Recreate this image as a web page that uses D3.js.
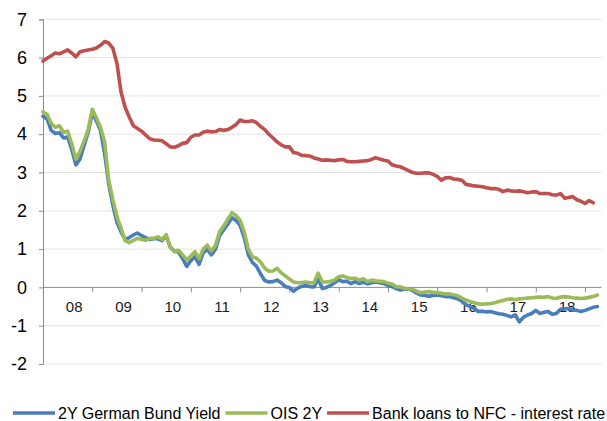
<!DOCTYPE html>
<html>
<head>
<meta charset="utf-8">
<script src="https://cdn.jsdelivr.net/npm/d3@7"></script>
<style>
body{margin:0;background:#fff;}
svg{display:block;font-family:"Liberation Sans",Arial,sans-serif;}
</style>
</head>
<body>
<div id="chart"></div>
<script>
// monthly, Jul 2007 onwards
const bund = [4.47,4.4,4.1,4.02,4.04,3.9,3.93,3.6,3.2,3.35,3.7,4.05,4.55,4.35,4.1,3.5,2.7,2.15,1.7,1.45,
1.25,1.3,1.37,1.42,1.35,1.3,1.25,1.27,1.27,1.22,1.35,1.05,0.95,0.92,0.75,0.55,0.7,0.8,0.6,0.9,
1.0,0.85,1.0,1.35,1.5,1.65,1.82,1.75,1.62,1.3,0.85,0.65,0.55,0.35,0.18,0.14,0.15,0.19,0.12,0.02,
0.0,-0.1,-0.02,0.03,0.05,0.02,0.01,0.23,-0.03,0.0,0.05,0.12,0.2,0.15,0.16,0.1,0.15,0.1,0.14,0.09,
0.12,0.14,0.12,0.1,0.05,0.02,-0.03,-0.07,-0.05,-0.04,-0.08,-0.15,-0.2,-0.21,-0.23,-0.21,-0.2,-0.22,-0.24,-0.24,
-0.27,-0.3,-0.36,-0.45,-0.5,-0.55,-0.63,-0.62,-0.64,-0.63,-0.66,-0.69,-0.7,-0.73,-0.77,-0.72,-0.9,-0.78,-0.72,-0.68,
-0.6,-0.68,-0.65,-0.63,-0.7,-0.68,-0.57,-0.56,-0.55,-0.59,-0.6,-0.63,-0.6,-0.56,-0.52,-0.5];

const ois = [4.58,4.52,4.28,4.18,4.22,4.05,4.08,3.75,3.35,3.55,3.82,4.12,4.65,4.42,4.18,3.8,2.8,2.3,1.85,1.55,
1.22,1.17,1.23,1.28,1.25,1.23,1.28,1.28,1.32,1.25,1.38,1.05,0.93,0.97,0.85,0.72,0.82,0.93,0.75,1.0,
1.1,0.95,1.1,1.45,1.6,1.78,1.95,1.88,1.75,1.45,1.0,0.8,0.76,0.66,0.5,0.42,0.43,0.5,0.38,0.3,
0.22,0.14,0.12,0.13,0.14,0.12,0.13,0.37,0.14,0.14,0.16,0.19,0.28,0.3,0.26,0.23,0.24,0.19,0.23,0.15,
0.19,0.17,0.16,0.15,0.11,0.09,0.02,0.01,-0.02,-0.04,-0.05,-0.1,-0.14,-0.12,-0.11,-0.13,-0.14,-0.15,-0.17,-0.17,
-0.19,-0.22,-0.28,-0.33,-0.37,-0.4,-0.43,-0.44,-0.43,-0.42,-0.4,-0.37,-0.34,-0.31,-0.3,-0.32,-0.3,-0.29,-0.28,-0.27,
-0.26,-0.25,-0.26,-0.24,-0.28,-0.29,-0.25,-0.24,-0.25,-0.27,-0.28,-0.29,-0.28,-0.26,-0.24,-0.2];

const loans = [5.91,5.98,6.05,6.12,6.1,6.15,6.2,6.12,6.02,6.15,6.18,6.2,6.22,6.25,6.32,6.42,6.38,6.25,5.85,5.1,
4.7,4.45,4.22,4.15,4.08,3.98,3.88,3.85,3.84,3.83,3.75,3.67,3.66,3.7,3.76,3.78,3.92,3.98,3.98,4.05,
4.08,4.06,4.07,4.12,4.1,4.12,4.18,4.25,4.37,4.33,4.33,4.35,4.3,4.2,4.12,4.0,3.9,3.8,3.72,3.67,
3.67,3.52,3.5,3.45,3.44,3.43,3.38,3.35,3.32,3.33,3.32,3.31,3.33,3.34,3.29,3.28,3.28,3.29,3.3,3.31,
3.34,3.39,3.35,3.32,3.3,3.2,3.17,3.15,3.1,3.05,3.0,2.98,2.98,2.99,2.99,2.95,2.9,2.8,2.86,2.87,
2.83,2.82,2.8,2.69,2.67,2.65,2.64,2.63,2.6,2.58,2.58,2.56,2.5,2.54,2.52,2.51,2.52,2.5,2.47,2.49,
2.5,2.45,2.45,2.45,2.42,2.41,2.45,2.33,2.35,2.37,2.29,2.25,2.19,2.27,2.21];

const yearLabels = ["08","09","10","11","12","13","14","15","16","17","18"];
const yTicks = [-2,-1,0,1,2,3,4,5,6,7];

const seriesNames = ["2Y German Bund Yield","OIS 2Y","Bank loans to NFC - interest rate"];
const seriesColors = ["#4a7ebb","#9bbb59","#c0504d"];

const width = 607;
const height = 421;

const svg = d3.select("#chart")
.append("svg")
.attr("width",width)
.attr("height",height);

const x = d3.scaleLinear()
.domain([0,136])
.range([43,601.5]);

const y = d3.scaleLinear()
.domain([-2,7])
.range([364,19.3]);

// gridlines
svg.append("g")
.selectAll("line")
.data(yTicks.filter(d=>d!==0))
.enter()
.append("line")
.attr("x1",x(0))
.attr("x2",x(136))
.attr("y1",d=>y(d))
.attr("y2",d=>y(d))
.attr("stroke","#e3e3e3")
.attr("stroke-width",1);

// y axis
const yAxis = svg.append("g")
.attr("transform",`translate(${x(0)},0)`)
.call(d3.axisLeft(y).tickValues(yTicks).tickSize(4).tickPadding(12).tickFormat(d=>String(d)));

yAxis.select(".domain").attr("stroke","#8c8c8c");
yAxis.selectAll(".tick line").attr("stroke","#8c8c8c");
yAxis.selectAll(".tick text")
.attr("font-size","18px")
.attr("font-family","Liberation Sans, Arial, sans-serif")
.attr("fill","#000");

// x axis at zero
const xAxis = svg.append("g")
.attr("transform",`translate(0,${y(0)})`)
.call(d3.axisBottom(x).tickValues(d3.range(0,133,12)).tickSize(5).tickFormat(""));

xAxis.select(".domain").attr("stroke","#8c8c8c").attr("d",`M${x(0)},0H${x(136)}`);
xAxis.selectAll(".tick line").attr("stroke","#8c8c8c");

svg.append("g")
.selectAll("text")
.data(yearLabels)
.enter()
.append("text")
.attr("x",(d,i)=>x(i*12+7.6))
.attr("y",y(0)+24.5)
.attr("text-anchor","middle")
.attr("font-size","15px")
.attr("fill","#1a1a1a")
.text(d=>d);

// lines
const line = d3.line()
.x((d,i)=>x(i))
.y(d=>y(d));

[bund,ois,loans].forEach((s,k)=>{
svg.append("path")
.datum(s)
.attr("d",line)
.attr("fill","none")
.attr("stroke",seriesColors[k])
.attr("stroke-width",3.6)
.attr("stroke-linejoin","round")
.attr("stroke-linecap","round");
});

// legend
const legend = svg.append("g");
let lx = 13;
const ly = 413;
seriesNames.forEach((name,k)=>{
legend.append("line")
.attr("x1",lx)
.attr("x2",lx+42)
.attr("y1",ly)
.attr("y2",ly)
.attr("stroke",seriesColors[k])
.attr("stroke-width",3.6);
const t = legend.append("text")
.attr("x",lx+45)
.attr("y",ly+6)
.attr("font-size","16px")
.attr("fill","#000")
.text(name);
lx = lx + 45 + t.node().getComputedTextLength() + 5;
});
</script>
</body>
</html>
